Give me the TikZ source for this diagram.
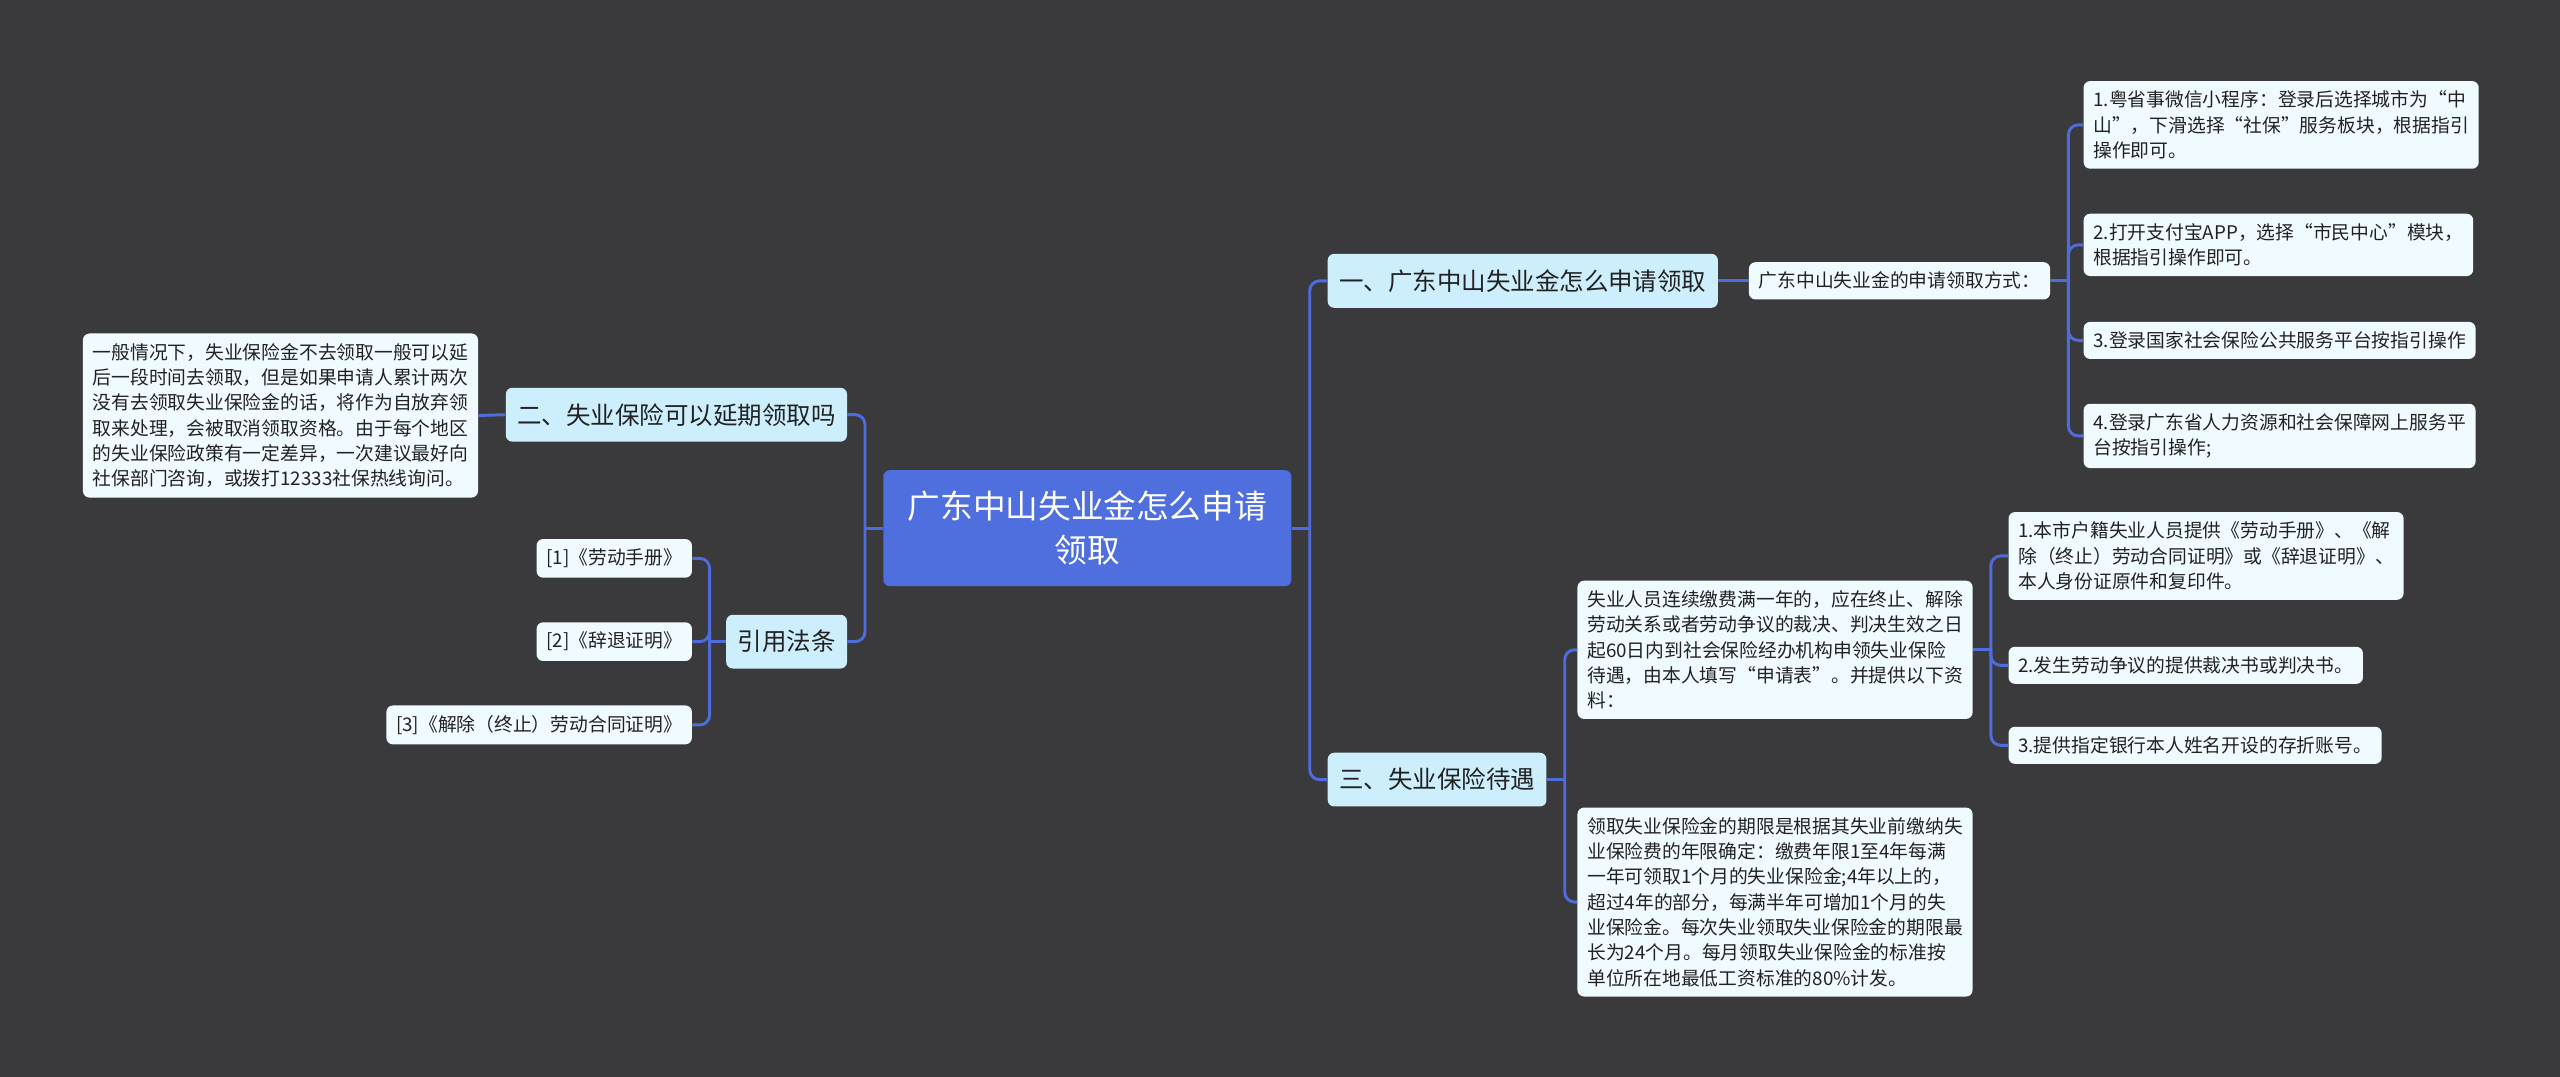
\documentclass[tikz,border=0pt]{standalone}
\usepackage{fontspec}
\setmainfont{Noto Sans CJK SC}
\usetikzlibrary{positioning}
\definecolor{boarddark}{RGB}{58,57,59}
\definecolor{linkblue}{RGB}{78,108,220}
\definecolor{rootblue}{RGB}{79,111,222}
\definecolor{branchcyan}{RGB}{205,238,252}
\definecolor{leafwhite}{RGB}{240,251,255}
\definecolor{inkdark}{RGB}{34,34,34}
\tikzset{
  rootbox/.style={fill=rootblue, text=white, rounded corners=4pt, minimum width=250pt,
                  minimum height=71pt, align=center, font=\fontsize{20}{27}\selectfont},
  branchbox/.style={fill=branchcyan, text=inkdark, rounded corners=4pt, inner xsep=7pt,
                    inner ysep=9.5pt, font=\fontsize{15}{20}\selectfont},
  leafbox/.style={fill=leafwhite, text=inkdark, rounded corners=4pt, inner xsep=6pt,
                  inner ysep=6pt, align=left, font=\fontsize{11.5}{15.5}\selectfont},
  link/.style={draw=linkblue, line width=1.8pt, rounded corners=6pt}
}

\begin{document}
\begin{tikzpicture}[x=1pt, y=-1pt]
            \fill[boarddark] (0,0) rectangle (1568,659.6);
            \useasboundingbox (0,0) rectangle (1568,659.6);

            % root and main branches
            \node[rootbox] (root) at (666,323.5) {广东中山失业金怎么申请\\领取};
            \node[branchbox, anchor=west] (apply) at (813,172) {一、广东中山失业金怎么申请领取};
            \node[branchbox, anchor=west] (benefit) at (813,477.5) {三、失业保险待遇};
            \node[branchbox, anchor=east] (delay) at (519,254) {二、失业保险可以延期领取吗};
            \node[branchbox, anchor=east] (laws) at (519,393) {引用法条};

            % branch one
            \node[leafbox, anchor=west] (applyhow) at (1071,172) {广东中山失业金的申请领取方式：};
            \node[leafbox, anchor=west] (app1) at (1276,76.5) {1.粤省事微信小程序：登录后选择城市为“中\\山”，下滑选择“社保”服务板块，根据指引\\操作即可。};
            \node[leafbox, anchor=west] (app2) at (1276,150) {2.打开支付宝APP，选择“市民中心”模块，\\根据指引操作即可。};
            \node[leafbox, anchor=west] (app3) at (1276,208.5) {3.登录国家社会保险公共服务平台按指引操作};
            \node[leafbox, anchor=west] (app4) at (1276,267) {4.登录广东省人力资源和社会保障网上服务平\\台按指引操作;};

            % branch three
            \node[leafbox, anchor=west] (cond) at (966,398) {失业人员连续缴费满一年的，应在终止、解除\\劳动关系或者劳动争议的裁决、判决生效之日\\起60日内到社会保险经办机构申领失业保险\\待遇，由本人填写“申请表”。并提供以下资\\料：};
            \node[leafbox, anchor=west] (term) at (966,552.5) {领取失业保险金的期限是根据其失业前缴纳失\\业保险费的年限确定：缴费年限1至4年每满\\一年可领取1个月的失业保险金;4年以上的，\\超过4年的部分，每满半年可增加1个月的失\\业保险金。每次失业领取失业保险金的期限最\\长为24个月。每月领取失业保险金的标准按\\单位所在地最低工资标准的80\%计发。};
            \node[leafbox, anchor=west] (doc1) at (1230,340.5) {1.本市户籍失业人员提供《劳动手册》、《解\\除（终止）劳动合同证明》或《辞退证明》、\\本人身份证原件和复印件。};
            \node[leafbox, anchor=west] (doc2) at (1230,407.5) {2.发生劳动争议的提供裁决书或判决书。};
            \node[leafbox, anchor=west] (doc3) at (1230,456.5) {3.提供指定银行本人姓名开设的存折账号。};

            % branch two and laws
            \node[leafbox, anchor=east] (delaytext) at (293,254.5) {一般情况下，失业保险金不去领取一般可以延\\后一段时间去领取，但是如果申请人累计两次\\没有去领取失业保险金的话，将作为自放弃领\\取来处理，会被取消领取资格。由于每个地区\\的失业保险政策有一定差异，一次建议最好向\\社保部门咨询，或拨打12333社保热线询问。};
            \node[leafbox, anchor=east] (law1) at (424,342) {[1]《劳动手册》};
            \node[leafbox, anchor=east] (law2) at (424,393) {[2]《辞退证明》};
            \node[leafbox, anchor=east] (law3) at (424,444) {[3]《解除（终止）劳动合同证明》};

            % connectors
            \draw[link] (root.east) -- ++(11,0) coordinate (jroot);
            \draw[link] (jroot) |- (apply.west);
            \draw[link] (jroot) |- (benefit.west);
            \draw[link] (root.west) -- ++(-11,0) coordinate (jleft);
            \draw[link] (jleft) |- (delay.east);
            \draw[link] (jleft) |- (laws.east);

            \draw[link] (apply.east) -- (applyhow.west);
            \draw[link] (applyhow.east) -- ++(11,0) coordinate (jhow);
            \foreach \n in {app1,app2,app3,app4}
                \draw[link] (jhow) |- (\n.west);

            \draw[link] (benefit.east) -- ++(11,0) coordinate (jben);
            \draw[link] (jben) |- (cond.west);
            \draw[link] (jben) |- (term.west);
            \draw[link] (cond.east) -- ++(11,0) coordinate (jcond);
            \foreach \n in {doc1,doc2,doc3}
                \draw[link] (jcond) |- (\n.west);

            \draw[link] (delay.west) -- (delaytext.east);
            \draw[link] (laws.west) -- ++(-10,0) coordinate (jlaw);
            \foreach \n in {law1,law2,law3}
                \draw[link] (jlaw) |- (\n.east);
\end{tikzpicture}
\end{document}
